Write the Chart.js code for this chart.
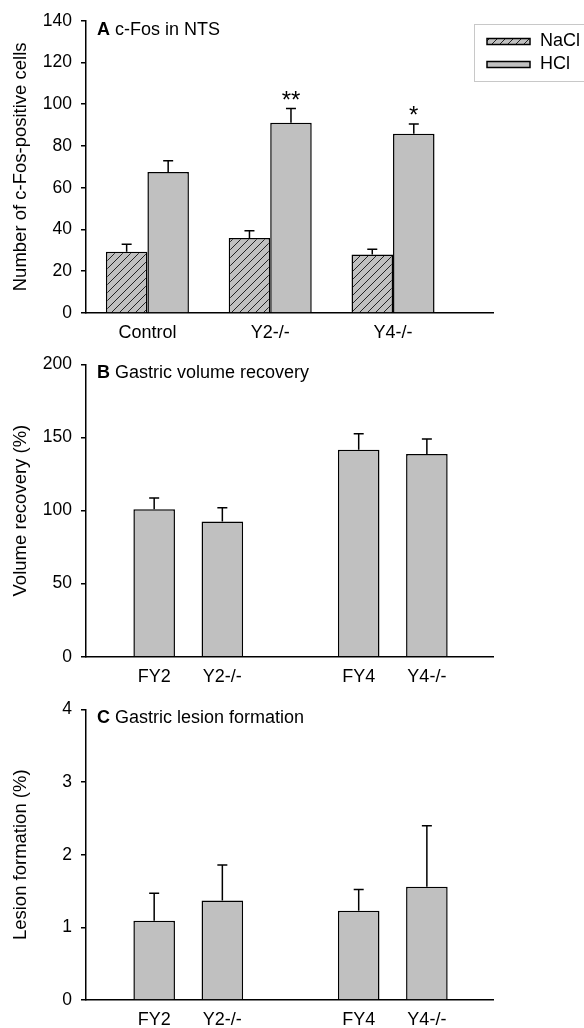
<!DOCTYPE html>
<html>
<head>
<meta charset="utf-8">
<script src="https://cdn.jsdelivr.net/npm/chart.js@4.4.0/dist/chart.umd.min.js"></script>
<style>
    body { margin: 0; background: #fff; }
    canvas { position: absolute; left: 0; }
</style>
</head>
<body>
<canvas id="chartA" width="584" height="350" style="top:0px"></canvas>
<canvas id="chartB" width="584" height="345" style="top:345px"></canvas>
<canvas id="chartC" width="584" height="338" style="top:690px"></canvas>
<script>
/**
 * Daten
 */
const groupsA = ['Control', 'Y2-/-', 'Y4-/-'];
const naclA = [29.3, 35.9, 28.0];
const naclErrA = [3.6, 3.5, 2.5];
const hclA = [67.5, 91.1, 85.9];
const hclErrA = [5.4, 6.8, 4.6];
const hclStarsA = ['', '**', '*'];
const ticksA = [0, 20, 40, 60, 80, 100, 120, 140];

const groupsBC = ['FY2', 'Y2-/-', 'FY4', 'Y4-/-'];
const volumeB = [100.9, 92.5, 141.7, 138.8];
const volumeErrB = [7.7, 9.5, 10.9, 10.2];
const ticksB = [0, 50, 100, 150, 200];

const lesionC = [1.09, 1.37, 1.23, 1.56];
const lesionErrC = [0.38, 0.49, 0.29, 0.84];
const ticksC = [0, 1, 2, 3, 4];

const FONT = "'Liberation Sans', Arial, sans-serif";
const COLOR_BAR = '#c0c0c0';
const FONT_SIZE = 17.5;

Chart.defaults.font.family = FONT;
Chart.defaults.font.size = FONT_SIZE;
Chart.defaults.color = '#000';

/**
 * Schraffur fuer die NaCl-Balken.
 */
function hatchPattern() {
    const c = document.createElement('canvas');
    c.width = 8;
    c.height = 8;
    const g = c.getContext('2d');
    g.fillStyle = COLOR_BAR;
    g.fillRect(0, 0, 8, 8);
    g.strokeStyle = '#222';
    g.lineWidth = 1;
    g.beginPath();
    g.moveTo(-1, 9); g.lineTo(9, -1);
    g.moveTo(-1, 1); g.lineTo(1, -1);
    g.moveTo(7, 9); g.lineTo(9, 7);
    g.stroke();
    return g.createPattern(c, 'repeat');
}

// Gruppenpositionen: Paare mit einer Luecke dazwischen
const slotsA = groupsA.map((_, i) => i);
const slotsBC = groupsBC.map((_, i) => i + 1 + Math.floor(i / 2));

function points(slots, values) {
    return values.map((v, i) => ({ x: slots[i], y: v }));
}

/**
 * Fehlerbalken (nur nach oben) und Signifikanzsterne.
 */
const errorBarPlugin = {
    id: 'errorBars',
    afterDatasetsDraw(chart) {
        const ctx = chart.ctx;
        const yScale = chart.scales.y;
        chart.data.datasets.forEach((ds, di) => {
            const meta = chart.getDatasetMeta(di);
            meta.data.forEach((bar, i) => {
                const top = yScale.getPixelForValue(ds.data[i].y + ds.errors[i]);
                ctx.save();
                ctx.strokeStyle = '#000';
                ctx.lineWidth = 1.5;
                ctx.beginPath();
                ctx.moveTo(bar.x, bar.y);
                ctx.lineTo(bar.x, top);
                ctx.moveTo(bar.x - 5, top);
                ctx.lineTo(bar.x + 5, top);
                ctx.stroke();
                if (ds.stars && ds.stars[i]) {
                    ctx.fillStyle = '#000';
                    ctx.font = '24px ' + FONT;
                    ctx.textAlign = 'center';
                    ctx.textBaseline = 'alphabetic';
                    ctx.fillText(ds.stars[i], bar.x, top - 1);
                }
                ctx.restore();
            });
        });
    }
};

/**
 * Panel-Ueberschrift mit fettem Buchstaben.
 */
const panelTitlePlugin = {
    id: 'panelTitle',
    afterDraw(chart, args, opts) {
        if (!opts.letter) return;
        const ctx = chart.ctx;
        const x = chart.chartArea.left + 11;
        const y = chart.chartArea.top + 9;
        ctx.save();
        ctx.fillStyle = '#000';
        ctx.textBaseline = 'middle';
        ctx.textAlign = 'left';
        ctx.font = 'bold 18px ' + FONT;
        ctx.fillText(opts.letter, x, y);
        const w = ctx.measureText(opts.letter).width;
        ctx.font = '18px ' + FONT;
        ctx.fillText(' ' + opts.text, x + w, y);
        ctx.restore();
    }
};

/**
 * Legende im Kasten oben rechts.
 */
const boxLegendPlugin = {
    id: 'boxLegend',
    afterDraw(chart, args, opts) {
        if (!opts.show) return;
        const ctx = chart.ctx;
        ctx.save();
        ctx.strokeStyle = '#c8c8c8';
        ctx.lineWidth = 1;
        ctx.strokeRect(474.5, 24.5, 130, 57);
        const rows = [41.5, 64.5];
        chart.data.datasets.forEach((ds, i) => {
            const y = rows[i];
            ctx.fillStyle = ds.backgroundColor;
            ctx.fillRect(487, y - 3, 43, 6);
            ctx.strokeStyle = '#000';
            ctx.lineWidth = 1.5;
            ctx.strokeRect(487, y - 3, 43, 6);
            ctx.fillStyle = '#000';
            ctx.font = '18px ' + FONT;
            ctx.textBaseline = 'middle';
            ctx.fillText(ds.label, 540, y);
        });
        ctx.restore();
    }
};

/**
 * Erstellt ein Balkendiagramm-Panel.
 * area: Plotbereich im Canvas (links, oben, rechts, unten).
 */
function makePanel(id, cfg) {
    const canvas = document.getElementById(id);
    const H = canvas.height;
    const area = cfg.area;
    return new Chart(canvas, {
        type: 'bar',
        data: { datasets: cfg.datasets },
        options: {
            responsive: false,
            animation: false,
            devicePixelRatio: 1,
            layout: { padding: { top: area.top, right: canvas.width - area.right, left: 0, bottom: 0 } },
            datasets: {
                bar: {
                    borderColor: '#000',
                    borderWidth: 1.5,
                    borderSkipped: 'bottom',
                    categoryPercentage: cfg.catPct,
                    barPercentage: 1
                }
            },
            plugins: {
                legend: { display: false },
                tooltip: { enabled: false },
                panelTitle: { letter: cfg.letter, text: cfg.title },
                boxLegend: { show: !!cfg.legend }
            },
            scales: {
                x: {
                    type: 'linear',
                    offset: false,
                    min: cfg.xMin,
                    max: cfg.xMax,
                    grid: { display: false, drawTicks: false, offset: false },
                    border: { display: true, color: '#000', width: 1.5 },
                    afterBuildTicks: (s) => { s.ticks = cfg.slots.map(v => ({ value: v })); },
                    afterFit: (s) => { s.height = H - area.bottom; },
                    ticks: {
                        padding: 9.5,
                        maxRotation: 0,
                        autoSkip: false,
                        font: { size: 18 },
                        callback: (v, i) => cfg.labels[i]
                    }
                },
                y: {
                    min: cfg.yTicks[0],
                    max: cfg.yTicks[cfg.yTicks.length - 1],
                    afterBuildTicks: (s) => { s.ticks = cfg.yTicks.map(v => ({ value: v })); },
                    afterFit: (s) => { s.width = area.left; },
                    grid: {
                        display: true,
                        drawOnChartArea: false,
                        drawTicks: true,
                        tickLength: 5,
                        color: '#000',
                        lineWidth: 1.5
                    },
                    border: { display: true, color: '#000', width: 1.5 },
                    ticks: { padding: 9 },
                    title: {
                        display: true,
                        text: cfg.yTitle,
                        padding: { top: 10, bottom: 0 },
                        font: { size: 18.5 }
                    }
                }
            }
        },
        plugins: [errorBarPlugin, panelTitlePlugin, boxLegendPlugin]
    });
}

makePanel('chartA', {
    area: { left: 86, top: 20.7, right: 493, bottom: 313 },
    letter: 'A', title: 'c-Fos in NTS', legend: true,
    labels: groupsA, slots: slotsA, xMin: -0.5, xMax: 2.814, catPct: 0.676,
    yTicks: ticksA, yTitle: 'Number of c-Fos-positive cells',
    datasets: [
        { label: 'NaCl', data: points(slotsA, naclA), errors: naclErrA, backgroundColor: hatchPattern() },
        { label: 'HCl', data: points(slotsA, hclA), errors: hclErrA, stars: hclStarsA, backgroundColor: COLOR_BAR }
    ]
});

makePanel('chartB', {
    area: { left: 86, top: 17.7, right: 493, bottom: 311.7 },
    letter: 'B', title: 'Gastric volume recovery',
    labels: groupsBC, slots: slotsBC, xMin: 0, xMax: 5.97, catPct: 0.61,
    yTicks: ticksB, yTitle: 'Volume recovery (%)',
    datasets: [
        { label: 'Volume', data: points(slotsBC, volumeB), errors: volumeErrB, backgroundColor: COLOR_BAR }
    ]
});

makePanel('chartC', {
    area: { left: 86, top: 15, right: 493, bottom: 310 },
    letter: 'C', title: 'Gastric lesion formation',
    labels: groupsBC, slots: slotsBC, xMin: 0, xMax: 5.97, catPct: 0.61,
    yTicks: ticksC, yTitle: 'Lesion formation (%)',
    datasets: [
        { label: 'Lesion', data: points(slotsBC, lesionC), errors: lesionErrC, backgroundColor: COLOR_BAR }
    ]
});
</script>
</body>
</html>
